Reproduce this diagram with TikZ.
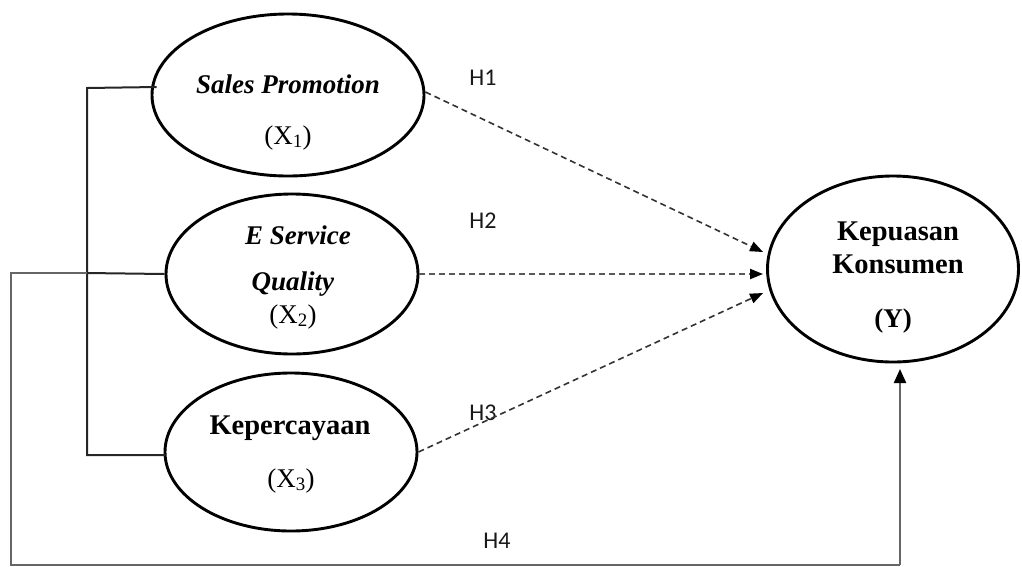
\documentclass[tikz,border=0pt]{standalone}
\usepackage{fontspec}
\setmainfont{Liberation Serif}
\newfontfamily\hfont{Carlito}
\usetikzlibrary{arrows.meta,shapes.geometric}
\begin{document}
\begin{tikzpicture}[x=1pt,y=-1pt,
  var/.style={draw, ellipse, line width=2.9pt, inner sep=0pt},
  txt/.style={anchor=base, font=\fontsize{27}{30}\selectfont, inner sep=0pt},
  btxt/.style={anchor=base, font=\fontsize{28.5}{32}\selectfont\bfseries, inner sep=0pt},
  hyp/.style={anchor=base, font=\hfont\fontsize{24}{28}\selectfont, text=black!90, inner sep=0pt},
  link/.style={line width=2pt, draw=black!85},
  outerlink/.style={line width=2.2pt, draw=black!60},
  dasharrow/.style={line width=1.6pt, draw=black!80, dash pattern=on 6pt off 4pt, -{Triangle[length=13pt,width=10pt,color=black]}},
]
\useasboundingbox (0,0) rectangle (1022,566);

% ellipses
\node[var, minimum width=272pt, minimum height=162pt] (sp) at (288,95) {};
\node[var, minimum width=252pt, minimum height=160pt] (es) at (292,274) {};
\node[var, minimum width=252pt, minimum height=158pt] (kp) at (291,452) {};
\node[var, minimum width=251pt, minimum height=186pt] (Y) at (893,269) {};

% texts
\node[txt] (tsp) at (288,93) {\textbf{\textit{Sales Promotion}}};
\node[txt] (tx1) at (288,144) {(X\textsubscript{1})};
\node[txt] (tes) at (298,244) {\textbf{\textit{E Service}}};
\node[txt] (tq) at (293,290) {\textbf{\textit{Quality}}};
\node[txt] (tx2) at (293,323) {(X\textsubscript{2})};
\node[btxt] (tkp) at (290,434) {Kepercayaan};
\node[txt] (tx3) at (291,487) {(X\textsubscript{3})};
\node[btxt] (tk1) at (898,240) {Kepuasan};
\node[btxt] (tk2) at (898,273) {Konsumen};
\node[txt] (ty) at (893,327) {\textbf{(Y)}};

% hypothesis labels
\node[hyp] (h1) at (483,85) {H1};
\node[hyp] (h2) at (483,228) {H2};
\node[hyp] (h3) at (483,420) {H3};
\node[hyp] (h4) at (497,548) {H4};

% bracket connectors
\coordinate (btop) at (87,88);
\coordinate (bmid) at (87,273);
\coordinate (bbot) at (87,455);
\coordinate (oleft) at (11,273);
\coordinate (obot) at (11,565);
\coordinate (ybot) at (900,565);
\coordinate (ytip) at (900,369);

\draw[link] ([shift={(6pt,8pt)}]sp.west) -- (btop) -- (bbot) -- ([shift={(2pt,-3pt)}]kp.west);
\draw[link] (es.west) -- (bmid);
\draw[outerlink] (bmid) -- (oleft) -- (obot) -- (ybot);
\draw[outerlink, -{Triangle[length=14pt,width=12pt,color=black]}] (ybot) -- (ytip);

% dashed arrows
\draw[dasharrow] ([yshift=3pt]sp.east) -- ([shift={(-3pt,17pt)}]Y.west);
\draw[dasharrow, draw=black!65, line width=2pt] (es.east) -- ([shift={(-3pt,-5pt)}]Y.west);
\draw[dasharrow] (kp.east) -- ([shift={(-3pt,-24pt)}]Y.west);
\end{tikzpicture}
\end{document}
